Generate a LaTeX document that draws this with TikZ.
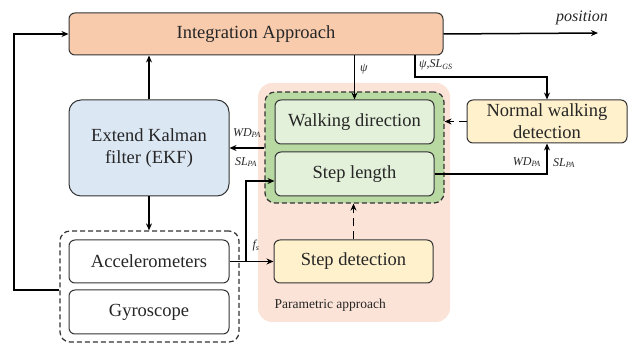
\documentclass[tikz,border=0pt]{standalone}
\usepackage{fontspec}
\setmainfont{Liberation Serif}
\newfontfamily\blockfont{Liberation Serif}
\usetikzlibrary{arrows.meta,positioning,fit}

\definecolor{inkc}{HTML}{262626}
\definecolor{edgec}{HTML}{333333}
\definecolor{peach}{HTML}{F8CBAD}
\definecolor{skyfill}{HTML}{DCE7F4}
\definecolor{leaf}{HTML}{B9D9A3}
\definecolor{leaflight}{HTML}{E3F0DA}
\definecolor{cream}{HTML}{FFF1CC}
\definecolor{blush}{HTML}{FBE3D7}

\newcommand{\sublbl}[2]{#1\textsubscript{#2}}

\tikzset{
  blk/.style={draw=edgec, line width=1pt, rounded corners=6pt, align=center,
              text=inkc, font=\blockfont\fontsize{18.5}{22}\selectfont, inner sep=0pt},
  grp/.style={draw=edgec, line width=1.2pt, dashed, dash pattern=on 5pt off 3pt,
              rounded corners=10pt, inner sep=0pt},
  arr/.style={draw=black, line width=1.5pt, -{Stealth[length=7pt,width=6pt]}},
  darr/.style={arr, dash pattern=on 8pt off 5pt},
  lbl/.style={font=\blockfont\fontsize{12}{14}\selectfont\itshape, text=inkc, inner sep=1pt},
}

\begin{document}
\begin{tikzpicture}[x=1pt,y=-1pt]
\useasboundingbox (0,0) rectangle (633,344);

% parametric-approach backdrop
\fill[blush, rounded corners=14pt] (258,83) rectangle (450,322);
\node[anchor=west, font=\blockfont\fontsize{13.5}{15}\selectfont, text=inkc] (paramlbl) at (271,305) {Parametric approach};

% main blocks
\node[blk, fill=peach, minimum width=374pt, minimum height=42pt] (integ) at (256,34) {Integration Approach};
\node[blk, fill=skyfill, minimum width=160pt, minimum height=96pt, rounded corners=12pt] (ekf) at (149,148) {Extend Kalman\\filter (EKF)};

% sensors
\node[blk, fill=white, minimum width=160pt, minimum height=43pt] (acc) at (149,261.5) {Accelerometers};
\node[blk, fill=white, minimum width=160pt, minimum height=44pt] (gyro) at (149,312) {Gyroscope};
\node[grp, fit={(60,231) (239,342)}] (sens) {};

% walking-direction / step-length group
\node[grp, fill=leaf, fit={(265,92) (444,203)}] (green) {};
\node[blk, fill=leaflight, minimum width=159pt, minimum height=44pt] (walk) at (354.5,122) {Walking direction};
\node[blk, fill=leaflight, minimum width=159pt, minimum height=44pt] (slen) at (354.5,174) {Step length};

\node[blk, fill=cream, minimum width=159pt, minimum height=43pt] (sdet) at (353.5,261.5) {Step detection};
\node[blk, fill=cream, minimum width=160pt, minimum height=43pt] (nwd) at (547,121.5) {Normal walking\\detection};

% helper points
\coordinate (fbL) at (14,290);
\coordinate (posend) at (598,33);
\coordinate (turn) at (415,77);
\coordinate (br) at (246,261.5);

% connectors
\draw[arr] (sens.west |- fbL) -- (fbL) |- (integ.west);
\draw[arr] (integ.east) -- (posend);
\node[lbl, font=\blockfont\fontsize{16}{18}\selectfont\itshape, anchor=south east] (poslbl) at (609,26) {position};

\draw[arr] (ekf.north) -- (ekf.north |- integ.south);
\draw[arr] (ekf.south) -- (ekf.south |- sens.north);

\draw[arr] (integ.south -| walk.north) -- (walk.north);
\node[lbl, anchor=west] (psilbl) at (359,69) {ψ};

\draw[arr] (integ.south -| turn) -- (turn) -| (nwd.north);
\node[lbl, anchor=west] (psisl) at (418,65) {ψ,\sublbl{SL}{GS}};

\draw[darr] (nwd.west) -- (green.east |- nwd.west);

\draw[arr] (slen.east) -| (nwd.south);
\node[lbl, anchor=east] (wdr) at (542,162) {\sublbl{WD}{PA}};
\node[lbl, anchor=west] (slr) at (552,163) {\sublbl{SL}{PA}};

\draw[arr] (green.west |- ekf.east) -- (ekf.east);
\node[lbl] (wdl) at (247,133) {\sublbl{WD}{PA}};
\node[lbl] (sll) at (246,162) {\sublbl{SL}{PA}};

\draw[arr] (acc.east) -- (sdet.west);
\draw[arr] (br) |- ([yshift=-7pt]slen.west);
\node[lbl] (fslbl) at (256,246) {\sublbl{f}{s}};

\draw[darr] (sdet.north) -- (sdet.north |- green.south);
\end{tikzpicture}
\end{document}
